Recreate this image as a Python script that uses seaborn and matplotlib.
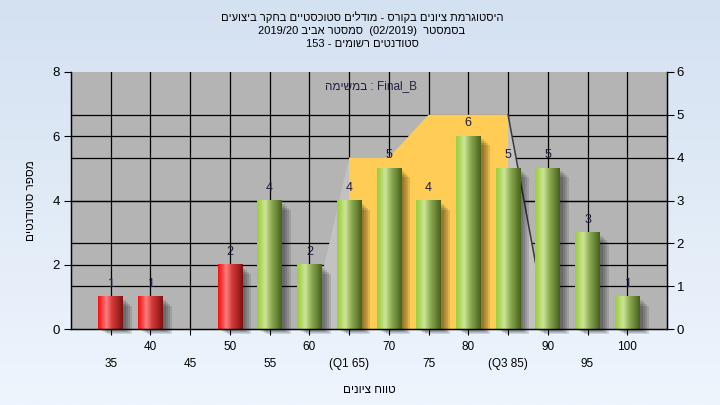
import re
import numpy as np
import pandas as pd
import matplotlib
matplotlib.use("Agg")
import matplotlib.pyplot as plt
from matplotlib.colors import LinearSegmentedColormap
from matplotlib.patches import Rectangle, Polygon
import seaborn as sns

# ---------------- data ----------------
grades = [35, 40, 45, 50, 55, 60, 65, 70, 75, 80, 85, 90, 95, 100]
counts = [1, 1, 0, 2, 4, 2, 4, 5, 4, 6, 5, 5, 3, 1]
status = ["fail", "fail", "fail", "fail", "pass", "pass", "pass", "pass",
          "pass", "pass", "pass", "pass", "pass", "pass"]
tick_labels = ["35", "40", "45", "50", "55", "60", "(Q1 65)", "70", "75",
               "80", "(Q3 85)", "90", "95", "100"]
# quartile area (right axis units)
quart_x = [65, 65, 70, 75, 85, 85]
quart_y = [0, 4, 4, 5, 5, 0]
hull_x = [60, 65, 70, 75, 85, 90]
hull_y = [0, 4, 4, 5, 5, 0]

title_lines = ["היסטוגרמת ציונים בקורס - מודלים סטוכסטיים בחקר ביצועים",
               "בסמסטר  (02/2019)  סמסטר אביב 2019/20",
               "סטודנטים רשומים - 153"]
task_label = "Final_B : במשימה"
x_label = "טווח ציונים"
y_label = "מספר סטודנטים"


def rtl(s):
    toks = re.findall(r"[A-Za-z0-9_/.]+|.", s)[::-1]
    mirror = {"(": ")", ")": "("}
    return "".join(mirror.get(t, t) for t in toks)


FAM = ["Liberation Sans", "DejaVu Sans"]
plt.rcParams["font.family"] = FAM
plt.rcParams["font.size"] = 8.5

fig = plt.figure(figsize=(7.2, 4.05), dpi=100)

# background gradient
bg = fig.add_axes([0, 0, 1, 1], zorder=-10)
grad = np.linspace(0, 1, 256).reshape(-1, 1)
bgcmap = LinearSegmentedColormap.from_list("bg", ["#d4e1f1", "#eef5fd"])
bg.imshow(grad, aspect="auto", cmap=bgcmap, extent=[0, 1, 0, 1], origin="upper")
bg.set_axis_off()

ax = fig.add_axes([71 / 720, 1 - 329 / 405, (667 - 71) / 720, (329 - 72) / 405])
ax.set_facecolor("#b4b4b4")

R2L = 8 / 6  # right axis -> left axis factor

df = pd.DataFrame({"grade": grades, "count": counts, "status": status})
sns.barplot(data=df, x="grade", y="count", hue="status",
            palette={"fail": "#e82020", "pass": "#9cc848"},
            native_scale=True, width=0.62, dodge=False, legend=False,
            ax=ax, zorder=2, linewidth=0)

bars = [p for p in ax.patches if isinstance(p, Rectangle)]

green_cm = LinearSegmentedColormap.from_list(
    "g", [(0, "#9ccc44"), (0.12, "#aad452"), (0.33, "#cfe69c"),
          (0.55, "#93b259"), (0.85, "#5f7c2e"), (1, "#46601c")])
red_cm = LinearSegmentedColormap.from_list(
    "r", [(0, "#f41010"), (0.12, "#fa3030"), (0.33, "#ff8080"),
          (0.55, "#d83c3c"), (0.85, "#a02020"), (1, "#781010")])

xpx = 75 / 596
ypx = 8 / 257
hgrad = np.linspace(0, 1, 128).reshape(1, -1)
for p in bars:
    h = p.get_height()
    if h <= 0:
        continue
    x0, w = p.get_x(), p.get_width()
    fc = p.get_facecolor()
    cm = red_cm if fc[0] > 0.8 and fc[1] < 0.4 else green_cm
    ax.imshow(hgrad, cmap=cm, extent=[x0, x0 + w, 0, h], aspect="auto",
              zorder=2.1, interpolation="bicubic")
    # soft shadow
    for d in [9, 7, 5, 3]:
        ax.add_patch(Rectangle((x0 + d * xpx, -d * 0.6 * ypx), w,
                               h - d * 0.4 * ypx, color="black", alpha=0.12,
                               lw=0, zorder=1.5, clip_on=False))

# quartile polygons
ax.add_patch(Polygon(list(zip(hull_x, [v * R2L for v in hull_y])),
                     closed=True, color="#c2c2c2", lw=0, zorder=1))
ax.add_patch(Polygon(list(zip(quart_x, [v * R2L for v in quart_y])),
                     closed=True, color="#ffcc55", lw=0, zorder=1.1))
ax.plot(hull_x[-2:], [v * R2L for v in hull_y[-2:]], color="#3a3a3a",
        lw=1.1, zorder=1.2)

# grid
for g in grades:
    ax.axvline(g, color="black", lw=0.9, zorder=0.5)
for v in [2, 4, 6]:
    ax.axhline(v, color="black", lw=0.9, zorder=0.5)
for v in [1, 2, 3, 4, 5]:
    ax.axhline(v * R2L, color="black", lw=0.9, zorder=0.5)

# value labels
for g, c in zip(grades, counts):
    if c > 0:
        ax.annotate(str(c), (g, c), xytext=(0, 5), textcoords="offset points",
                    ha="center", va="bottom", fontsize=9, color="#1c1c3a",
                    zorder=3)

ax.set_xlim(30, 105)
ax.set_ylim(0, 8)
ax.set_yticks([0, 2, 4, 6, 8])
ax.set_xticks(grades)
labs = [("\n" + t) if i % 2 == 0 else t for i, t in enumerate(tick_labels)]
ax.set_xticklabels(labs)
for t in ax.get_xticklabels():
    t.set_linespacing(1.55)
ax.tick_params(axis="x", length=4, pad=5, colors="black", labelsize=8.5)
ax.tick_params(axis="y", length=5, pad=3, colors="black", labelsize=9.5)
for s in ["left", "bottom", "right"]:
    ax.spines[s].set_color("black")
    ax.spines[s].set_linewidth(1)
ax.spines["top"].set_visible(False)

ax.set_xlabel(rtl(x_label), fontsize=8.5, labelpad=10)
ax.set_ylabel(rtl(y_label), fontsize=8.5, labelpad=11)

ax2 = ax.twinx()
ax2.set_ylim(0, 6)
ax2.set_yticks(range(0, 7))
ax2.tick_params(axis="y", length=5, pad=2, colors="black", labelsize=9.5)
ax2.spines["top"].set_visible(False)
ax2.spines["right"].set_color("black")
ax2.grid(False)

ax.text(0.503, 0.945, rtl(task_label), transform=ax.transAxes, ha="center",
        va="center", fontsize=8.5, color="#202040", zorder=4)

for yy, line in zip([17, 30.5, 44], title_lines):
    fig.text(362 / 720, 1 - yy / 405, rtl(line), ha="center", va="center",
             fontsize=8, color="black")

fig.savefig("out.png", dpi=100)
